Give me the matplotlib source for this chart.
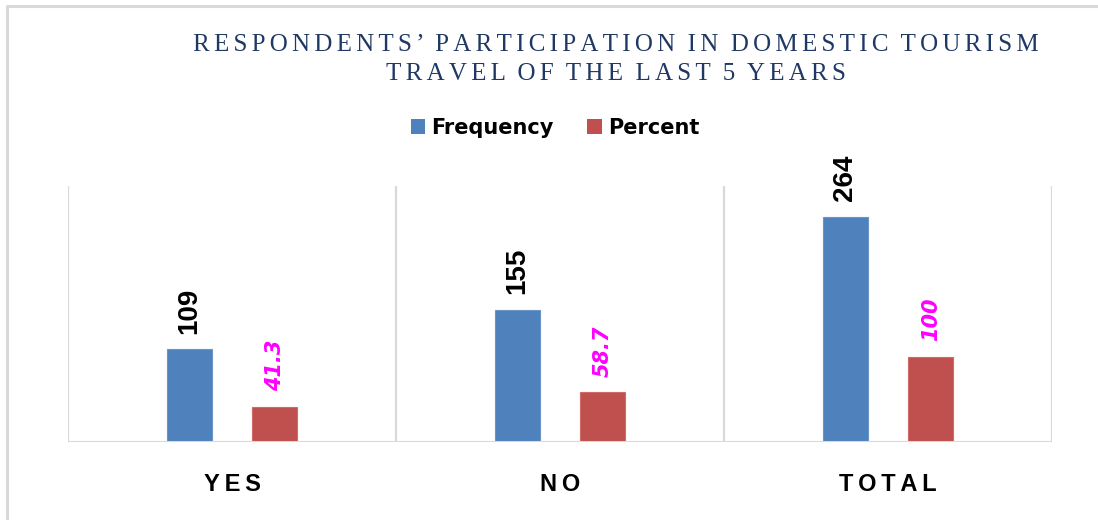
import numpy as np
import matplotlib.pyplot as plt
from matplotlib.patches import Patch
from matplotlib.lines import Line2D

categories = ["YES", "NO", "TOTAL"]
frequency = [109, 155, 264]
percent = [41.3, 58.7, 100]
freq_labels = ["109", "155", "264"]
pct_labels = ["41.3", "58.7", "100"]
title_lines = ["RESPONDENTS’ PARTICIPATION IN DOMESTIC TOURISM",
               "TRAVEL OF THE LAST 5 YEARS"]

BLUE = "#4F81BD"
RED = "#C0504D"
GRID = "#D9D9D9"
NAVY = "#1F3864"


def spaced(text, sep="\u200a"):
    # fake letter spacing: join letters with a narrow space, keep word gaps
    return "  ".join(sep.join(w) for w in text.split(" "))


W, H = 1098, 520
fig = plt.figure(figsize=(W / 100, H / 100), dpi=100)

# outer chart frame (only left and top edges visible in the crop)
fig.add_artist(Line2D([7 / W, 7 / W, 1.0], [0.0, 1 - 6 / H, 1 - 6 / H],
                      transform=fig.transFigure, color=GRID, lw=2.2))

ax = fig.add_axes([68 / W, 1 - 442 / H, (1052 - 68) / W, (442 - 186) / H])
x = np.arange(len(categories)) + 0.5
bw, off = 0.137, 0.13
ax.bar(x - off, frequency, bw, color=BLUE, edgecolor="#6A95C9", linewidth=0.8, zorder=3)
ax.bar(x + off, percent, bw, color=RED, edgecolor="#D06A67", linewidth=0.8, zorder=3)

for xi, v, s in zip(x - off, frequency, freq_labels):
    ax.annotate(s, (xi, v), xytext=(0, 11), textcoords="offset points",
                rotation=90, ha="center", va="bottom", fontsize=20,
                fontweight="bold", family="Liberation Sans", color="black")
for xi, v, s in zip(x + off, percent, pct_labels):
    ax.annotate(s, (xi, v), xytext=(0, 11), textcoords="offset points",
                rotation=90, ha="center", va="bottom", fontsize=15,
                fontweight="bold", style="italic", family="DejaVu Sans", color="#FF00FF")

ax.set_xlim(0, len(categories))
ax.set_ylim(0, 300)
for b in range(len(categories) + 1):
    ax.axvline(b, color=GRID, lw=1.6, zorder=1)
ax.axhline(0, color=GRID, lw=2.2, zorder=4)
for s in ax.spines.values():
    s.set_visible(False)
ax.set_yticks([])
ax.set_xticks(x)
ax.set_xticklabels([spaced(c, "\u2009") for c in categories], fontsize=17,
                   fontweight="bold", family="Liberation Sans")
ax.tick_params(axis="x", length=0, pad=22)

for i, line in enumerate(title_lines):
    fig.text(616 / W, 1 - (45 + 29 * i) / H, spaced(line, "\u200a\u200a"),
             ha="center", va="center", fontsize=18, family="Liberation Serif", color=NAVY)

handles = [Patch(facecolor=BLUE, label="Frequency"), Patch(facecolor=RED, label="Percent")]
fig.legend(handles=handles, loc="center", bbox_to_anchor=(555 / W, 1 - 128 / H), ncol=2,
           frameon=False, prop={"family": "DejaVu Sans", "weight": "bold", "size": 15},
           handlelength=0.7, handleheight=0.7, handletextpad=0.3, columnspacing=1.6)

fig.savefig("out.png", dpi=100, facecolor="white")
